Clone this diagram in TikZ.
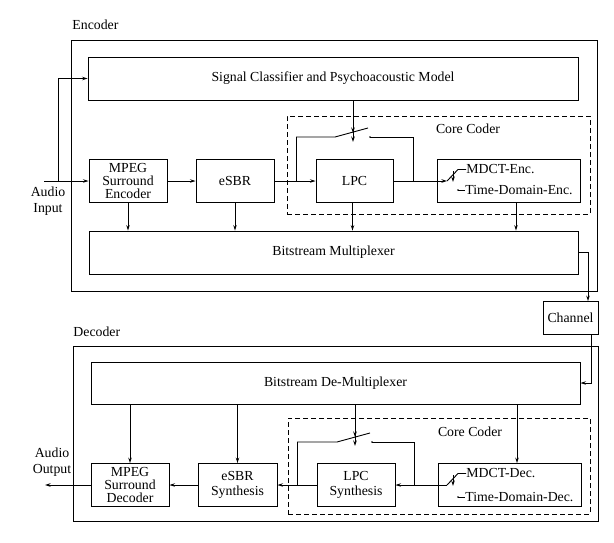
\documentclass[tikz,border=0pt]{standalone}
\usepackage{fontspec}
\setmainfont{Liberation Serif}
\usetikzlibrary{arrows.meta}
\begin{document}
\begin{tikzpicture}[x=1pt,y=-1pt,line width=0.9pt,
  arr/.style={-{Stealth[length=5.5pt,width=3.5pt]}},
  box/.style={draw,inner sep=0pt,align=center,font=\fontsize{13.8}{13}\selectfont},
  box2/.style={box,font=\fontsize{13.8}{15.5}\selectfont},
  frame/.style={draw,inner sep=0pt},
  dbox/.style={draw,dash pattern=on 5pt off 3pt,inner sep=0pt},
  lbl/.style={inner sep=0pt,align=center,font=\fontsize{13.8}{16}\selectfont},
  dot/.style={circle,fill,inner sep=0pt,minimum size=1.8pt}]
\useasboundingbox (0,0) rectangle (614,542);

% ---------------- Encoder ----------------
\node[lbl,anchor=west] (enclbl) at (72,25) {Encoder};
\node[frame,minimum width=526pt,minimum height=251pt] (enc) at (334,165.5) {};
\node[box,minimum width=490pt,minimum height=43pt] (cls) at (333,78.5) {Signal Classifier and Psychoacoustic Model};
\node[dbox,minimum width=303pt,minimum height=98pt] (cce) at (438.5,165) {};
\node[lbl] (ccelbl) at (468,129) {Core Coder};
\node[box,minimum width=78pt,minimum height=43pt] (mse) at (128,181) {MPEG\\Surround\\Encoder};
\node[box,minimum width=78pt,minimum height=43pt] (esbr) at (235,181) {eSBR};
\node[box,minimum width=77pt,minimum height=43pt] (lpc) at (354.5,181) {LPC};
\node[box,minimum width=143pt,minimum height=43pt] (mdcte) at (508.5,181) {};
\node[box,minimum width=489pt,minimum height=43pt] (mux) at (333.5,252.5) {Bitstream Multiplexer};

\node[lbl] (ain) at (48,201) {Audio\\Input};
\coordinate (ainst) at (44,181);
\coordinate (j1) at (58,181);
\draw[arr] (ainst) -- (mse.west);
\draw[arr] (j1) |- (cls.west);
\draw[arr] (mse) -- (esbr);
\draw[arr] (esbr) -- (lpc);

% LPC bypass switch (encoder)
\coordinate (fbl) at (296.5,181);
\coordinate (swl) at (335,137);
\coordinate (swb) at (368,128);
\coordinate (swr) at (370,137);
\coordinate (fbr) at (413,181);
\coordinate (ctl1) at (353,100);
\coordinate (ctl1e) at (353,142);
\draw (fbl) |- (swl) -- (swb);
\node[dot] (swrd) at (swr) {};
\draw (swr) -| (fbr);
\draw[arr] (ctl1) -- (ctl1e);
\draw[arr] (353,124) -- (353,133);

% MDCT / time-domain switch (encoder)
\coordinate (swi) at (447,181);
\coordinate (swit) at (458,169.5);
\coordinate (swid) at (458,190);
\draw[arr] (lpc.east) -- (swi);
\draw (swi) -- (swit) -- (466,169.5);
\node[lbl,anchor=west] (mdcttxt) at (466,169.5) {MDCT-Enc.};
\node[dot] (swidd) at (swid) {};
\draw (swid) -- (465,190);
\node[lbl,anchor=west] (tdtxt) at (465,190) {Time-Domain-Enc.};
\draw[arr] (453,171) -- (453,182);

% down to multiplexer
\draw[arr] (mse.south) -- (mse.south |- mux.north);
\draw[arr] (esbr.south) -- (esbr.south |- mux.north);
\draw[arr] ([xshift=-2pt]lpc.south) -- ([xshift=-2pt]lpc.south |- mux.north);
\draw[arr] ([xshift=7.5pt]mdcte.south) -- ([xshift=7.5pt]mdcte.south |- mux.north);

% ---------------- Channel ----------------
\node[box,minimum width=55pt,minimum height=33pt] (chan) at (570.5,318) {Channel};
\draw[arr] (mux.east) -| ([xshift=17.5pt]chan.north);

% ---------------- Decoder ----------------
\node[lbl,anchor=west] (declbl) at (73,332) {Decoder};
\node[frame,minimum width=525pt,minimum height=175pt] (dec) at (335.5,433.5) {};
\node[box,minimum width=489pt,minimum height=42pt] (dmx) at (335.5,383) {Bitstream De-Multiplexer};
\draw[arr] ([xshift=20.5pt]chan.south) |- (dmx.east);
\node[dbox,minimum width=302pt,minimum height=96pt] (ccd) at (439,466) {};
\node[lbl] (ccdlbl) at (470,432) {Core Coder};
\node[box,minimum width=78pt,minimum height=43pt] (msd) at (130,485) {MPEG\\Surround\\Decoder};
\node[box2,minimum width=79pt,minimum height=43pt] (esbs) at (237.5,485) {eSBR\\Synthesis};
\node[box2,minimum width=78pt,minimum height=43pt] (lpcs) at (356,485) {LPC\\Synthesis};
\node[box,minimum width=143pt,minimum height=43pt] (mdctd) at (509.5,485) {};

\draw[arr] (msd.north |- dmx.south) -- (msd.north);
\draw[arr] (esbs.north |- dmx.south) -- (esbs.north);
\draw[arr] ([xshift=7.5pt]mdctd.north |- dmx.south) -- ([xshift=7.5pt]mdctd.north);

% MDCT / time-domain switch (decoder)
\coordinate (swo) at (447,485);
\coordinate (swot) at (458,473.5);
\coordinate (swod) at (458,497);
\draw (swo) -- (swot) -- (466,473.5);
\node[lbl,anchor=west] (mdcttxt2) at (466,473.5) {MDCT-Dec.};
\node[dot] (swodd) at (swod) {};
\draw (swod) -- (465,497);
\node[lbl,anchor=west] (tdtxt2) at (465,497) {Time-Domain-Dec.};
\draw[arr] (453,475) -- (453,486);
\draw[arr] (swo) -- (lpcs.east);

% LPC bypass switch (decoder)
\coordinate (fbl2) at (297.5,485);
\coordinate (swl2) at (337,442);
\coordinate (swb2) at (370,433);
\coordinate (swr2) at (372,442);
\coordinate (fbr2) at (414,485);
\coordinate (ctl2) at (355,404);
\coordinate (ctl2e) at (355,446);
\draw (fbl2) |- (swl2) -- (swb2);
\node[dot] (swr2d) at (swr2) {};
\draw (swr2) -| (fbr2);
\draw[arr] (ctl2) -- (ctl2e);
\draw[arr] (355,428) -- (355,437);

\draw[arr] (lpcs) -- (esbs);
\draw[arr] (esbs) -- (msd);
\coordinate (aout) at (45,485);
\draw[arr] (msd.west) -- (aout);
\node[lbl] (aoutlbl) at (52,462) {Audio\\Output};
\end{tikzpicture}
\end{document}
